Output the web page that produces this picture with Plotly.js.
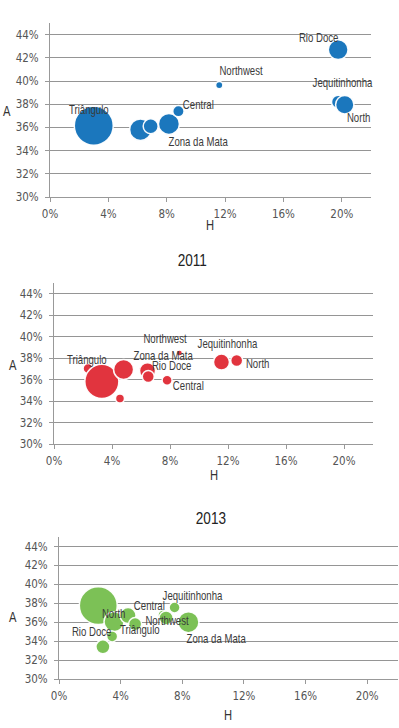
<!DOCTYPE html>
<html><head><meta charset="utf-8">
<script src="https://cdn.plot.ly/plotly-3.0.1.min.js"></script>
<style>
html,body{margin:0;padding:0;background:#fff}
#chart{width:399px;height:728px}
#chart .annotation-text{transform-box:fill-box;transform-origin:center;transform:scaleX(0.8)}
</style>
</head><body><div id="chart"></div>
<script>
// ---- data ----
const xTickVals = [0, 4, 8, 12, 16, 20];
const xTickText = ['0%', '4%', '8%', '12%', '16%', '20%'];
const yTickVals = [30, 32, 34, 36, 38, 40, 42, 44];
const yTickText = ['30%', '32%', '34%', '36%', '38%', '40%', '42%', '44%'];
const panelTitles = ['', '2011', '2013'];

// Panel 1 (top)
const labels1 = ['Triângulo', '', '', 'Zona da Mata', 'Central', 'Northwest', 'Rio Doce', 'Jequitinhonha', 'North'];
const h1 = [3.0, 6.2, 6.9, 8.15, 8.8, 11.6, 19.75, 19.75, 20.2];
const a1 = [36.15, 35.8, 36.1, 36.3, 37.4, 39.65, 42.7, 38.2, 37.95];
const w1 = [15.2, 4.7, 2.25, 4.4, 1.28, 0.53, 3.9, 1.78, 3.36];

// Panel 2 (2011)
const labels2 = ['', 'Triângulo', '', '', 'Zona da Mata', 'Rio Doce', 'Central', 'Northwest', 'Jequitinhonha', 'North'];
const h2 = [2.35, 3.3, 4.8, 4.55, 6.45, 6.5, 7.8, 8.65, 11.55, 12.6];
const a2 = [37.05, 35.85, 36.95, 34.25, 36.85, 36.3, 35.95, 38.5, 37.65, 37.8];
const w2 = [1.0, 11.6, 4.0, 0.81, 2.56, 1.44, 1.0, 0.36, 2.56, 1.44];

// Panel 3 (2013)
const labels3 = ['', 'North', '', 'Triângulo', 'Rio Doce', '', 'Central', 'Northwest', 'Jequitinhonha', 'Zona da Mata'];
const h3 = [2.55, 3.57, 4.48, 4.94, 2.85, 3.45, 6.75, 6.95, 7.5, 8.4];
const a3 = [37.75, 36.05, 36.7, 35.8, 33.4, 34.5, 36.75, 36.45, 37.55, 36.0];
const w3 = [14.4, 4.0, 2.56, 1.7, 1.96, 1.2, 1.0, 1.96, 1.2, 4.4];

// ---- styling ----
const FONT = '"Liberation Sans", Arial, sans-serif';
const TICKFONT = '"DejaVu Sans Condensed", "Liberation Sans Narrow", sans-serif';
const W = 399, H = 728;
const px = v => v / W;
const py = v => 1 - v / H;

// label pixel offsets [dx, dy(down)] per bubble
const off1 = [[-5,-16],null,null,[29,18],[20,-6],[22,-14],[-19,-12],[4,-19],[14,13]];
const off2 = [null,[-15,-21],null,null,[15,-15],[24,-11],[21,6],[-14,-14],[6,-18],[21,4]];
const off3 = [null,[-1,-8],null,[5,6],[-11,-15],null,[-14,-9],[1,3],[18,-12],[28,17]];

const panels = [
  {h: h1, a: a1, w: w1, labels: labels1, off: off1, color: '#1b77bd',
   xd: [50, 371], yd: [23, 197], title: null, titleXY: null, aXY: [7, 111], hXY: [210, 225]},
  {h: h2, a: a2, w: w2, labels: labels2, off: off2, color: '#e1343e',
   xd: [54, 373], yd: [283, 444.3], title: panelTitles[1], titleXY: [192, 260], aXY: [13, 365], hXY: [214, 475]},
  {h: h3, a: a3, w: w3, labels: labels3, off: off3, color: '#7cc156',
   xd: [59, 398], yd: [537, 679], title: panelTitles[2], titleXY: [211, 518], aXY: [13, 617], hXY: [228, 715]}
];

const data = [];
const layout = {
  width: W, height: H,
  margin: {l: 0, r: 0, t: 0, b: 0},
  paper_bgcolor: '#fff', plot_bgcolor: '#fff',
  showlegend: false,
  font: {family: FONT, size: 12, color: '#444'},
  annotations: []
};

panels.forEach((p, i) => {
  const sfx = i === 0 ? '' : String(i + 1);
  const xa = 'x' + sfx, ya = 'y' + sfx;
  data.push({
    type: 'scatter', mode: 'markers',
    x: p.h, y: p.a, xaxis: xa, yaxis: ya,
    hoverinfo: 'skip',
    marker: {
      size: p.w, sizemode: 'area', sizeref: 0.02,
      color: p.color, opacity: 1,
      line: {color: 'rgba(255,255,255,0.95)', width: 1.5}
    },
    cliponaxis: false
  });
  layout['xaxis' + sfx] = {
    domain: [px(p.xd[0]), px(p.xd[1])], anchor: ya,
    range: [0, 22], tickvals: xTickVals, ticktext: xTickText,
    showgrid: false, zeroline: false, showline: true, linecolor: '#999', linewidth: 1,
    ticks: 'outside', ticklen: 4, tickcolor: '#999', ticklabelstandoff: 2,
    tickfont: {family: TICKFONT, size: 11.5, color: '#555'}, fixedrange: true
  };
  layout['yaxis' + sfx] = {
    domain: [py(p.yd[1]), py(p.yd[0])], anchor: xa,
    range: [30, 45], tickvals: yTickVals, ticktext: yTickText,
    showgrid: true, gridcolor: '#959595', gridwidth: 1, zeroline: false,
    showline: true, linecolor: '#999', linewidth: 1,
    ticks: 'outside', ticklen: 4, tickcolor: '#999', ticklabelstandoff: 4,
    tickfont: {family: TICKFONT, size: 11.5, color: '#555'}, fixedrange: true
  };
  p.labels.forEach((lab, k) => {
    if (!lab) return;
    const o = p.off[k];
    layout.annotations.push({
      xref: xa, yref: ya, x: p.h[k], y: p.a[k],
      xshift: o[0], yshift: -o[1], showarrow: false,
      text: lab, font: {family: FONT, size: 12, color: '#3a3a3a'},
      xanchor: 'center', yanchor: 'middle'
    });
  });
  if (p.title) {
    layout.annotations.push({
      xref: 'paper', yref: 'paper', x: px(p.titleXY[0]), y: py(p.titleXY[1]),
      text: p.title, showarrow: false, xanchor: 'center', yanchor: 'middle',
      font: {family: FONT, size: 17, color: '#222'}
    });
  }
  layout.annotations.push({
    xref: 'paper', yref: 'paper', x: px(p.aXY[0]), y: py(p.aXY[1]),
    text: 'A', showarrow: false, xanchor: 'center', yanchor: 'middle',
    font: {family: FONT, size: 14, color: '#333'}
  });
  layout.annotations.push({
    xref: 'paper', yref: 'paper', x: px(p.hXY[0]), y: py(p.hXY[1]),
    text: 'H', showarrow: false, xanchor: 'center', yanchor: 'middle',
    font: {family: FONT, size: 14, color: '#333'}
  });
});

Plotly.newPlot('chart', data, layout, {staticPlot: true, displayModeBar: false});
</script>
</body></html>
